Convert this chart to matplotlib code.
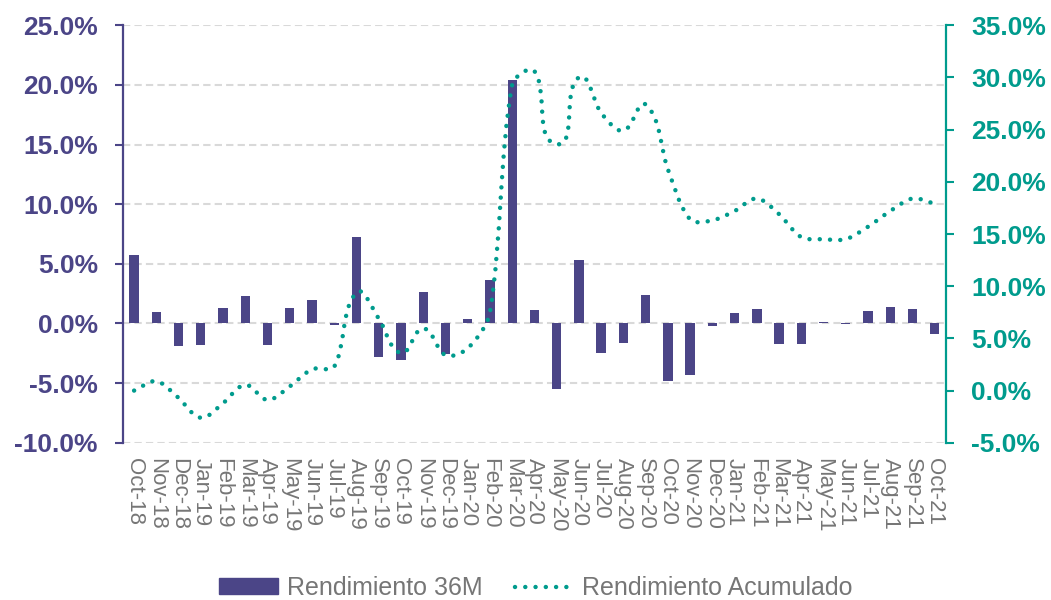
import numpy as np
import matplotlib
matplotlib.use("Agg")
from matplotlib import pyplot as plt
from matplotlib.path import Path
from matplotlib.patches import PathPatch, Patch
from matplotlib.lines import Line2D
from matplotlib.ticker import FuncFormatter

plt.rcParams['font.family'] = ['Liberation Sans', 'DejaVu Sans']

# Data
months = ["Oct-18", "Nov-18", "Dec-18", "Jan-19", "Feb-19", "Mar-19", "Apr-19", "May-19",
          "Jun-19", "Jul-19", "Aug-19", "Sep-19", "Oct-19", "Nov-19", "Dec-19", "Jan-20",
          "Feb-20", "Mar-20", "Apr-20", "May-20", "Jun-20", "Jul-20", "Aug-20", "Sep-20",
          "Oct-20", "Nov-20", "Dec-20", "Jan-21", "Feb-21", "Mar-21", "Apr-21", "May-21",
          "Jun-21", "Jul-21", "Aug-21", "Sep-21", "Oct-21"]
rend_36m = [5.7, 1.0, -1.9, -1.8, 1.3, 2.3, -1.8, 1.3, 2.0, -0.15, 7.25, -2.8, -3.05,
            2.65, -2.55, 0.35, 3.65, 20.4, 1.1, -5.5, 5.35, -2.45, -1.6, 2.4, -4.8, -4.35,
            -0.25, 0.9, 1.2, -1.7, -1.7, 0.1, -0.05, 1.05, 1.35, 1.2, -0.85]
rend_acum = [0.0, 0.9, -0.7, -2.6, -1.2, 0.55, -0.9, 0.4, 2.05, 2.3, 9.4, 6.9, 3.6,
             5.95, 3.4, 4.05, 7.5, 29.3, 30.6, 23.6, 30.0, 26.6, 24.9, 27.4, 21.2, 16.4,
             16.3, 17.2, 18.4, 16.9, 14.7, 14.5, 14.5, 15.7, 17.2, 18.4, 17.9]

purple = '#4B4587'
teal = '#009B8D'
gray = '#767676'


def smooth_path(xs, ys, yscale, t=0.3):
    # smooth curve through the points; tangents scaled by segment length
    # (worked out in a roughly isotropic space so short segments don't overshoot)
    pts = np.column_stack([xs, np.asarray(ys) * yscale]).astype(float)
    n = len(pts)
    tang = []
    for i in range(n):
        d = pts[min(i + 1, n - 1)] - pts[max(i - 1, 0)]
        tang.append(d / np.hypot(*d))
    verts = [pts[0]]
    codes = [Path.MOVETO]
    for i in range(n - 1):
        seg = np.hypot(*(pts[i + 1] - pts[i]))
        verts += [pts[i] + tang[i] * seg * t, pts[i + 1] - tang[i + 1] * seg * t, pts[i + 1]]
        codes += [Path.CURVE4] * 3
    verts = np.array(verts)
    verts[:, 1] /= yscale
    return Path(verts, codes)


fig = plt.figure(figsize=(10.51, 6.0), dpi=100)
ax = fig.add_axes([0.117, 0.262, 0.783, 0.696])
x = np.arange(len(months))

ax.bar(x, rend_36m, width=0.42, color=purple, zorder=2)
ax.set_xlim(-0.5, len(months) - 0.5)
ax.set_ylim(-10, 25)
ax.set_yticks(np.arange(-10, 26, 5))
ax.yaxis.set_major_formatter(FuncFormatter(lambda v, p: f"{v:.1f}%"))
ax.yaxis.grid(True, color='#D9D9D9', linestyle=(0, (3.5, 2)), linewidth=1.5, zorder=0)
ax.set_axisbelow(True)

ax.set_xticks(x)
ax.set_xticklabels(months, rotation=-90, ha='center', va='top', color=gray, fontsize=16)
ax.tick_params(axis='x', length=0, pad=11)
ax.tick_params(axis='y', colors=purple, labelsize=19, length=6, width=1.5, pad=12)
for lab in ax.get_yticklabels():
    lab.set_fontweight('bold')

for s in ['top', 'bottom', 'right']:
    ax.spines[s].set_visible(False)
ax.spines['left'].set_color(purple)
ax.spines['left'].set_linewidth(1.6)

ax2 = ax.twinx()
ax2.set_ylim(-5, 35)
ax2.set_yticks(np.arange(-5, 36, 5))
ax2.yaxis.set_major_formatter(FuncFormatter(lambda v, p: f"{v:.1f}%"))
ax2.tick_params(axis='y', colors=teal, labelsize=19, length=6, width=1.5, pad=12)
for lab in ax2.get_yticklabels():
    lab.set_fontweight('bold')
for s in ['top', 'bottom', 'left']:
    ax2.spines[s].set_visible(False)
ax2.spines['right'].set_color(teal)
ax2.spines['right'].set_linewidth(1.6)

# pixels per % on the right axis over pixels per category
yscale = (0.696 * 600 / 40) / (0.783 * 1051 / len(months))
line = PathPatch(smooth_path(x, rend_acum, yscale), fill=False, edgecolor=teal, linewidth=3.2,
                 linestyle=(0, (0.01, 2.3)), capstyle='round', transform=ax2.transData)
ax2.add_patch(line)

handles = [Patch(color=purple),
           Line2D([], [], color=teal, linewidth=3.2, linestyle=(0, (0.01, 2.3)),
                  dash_capstyle='round')]
fig.legend(handles, ["Rendimiento 36M", "Rendimiento Acumulado"], loc='center',
           bbox_to_anchor=(0.51, 0.02), ncol=2, frameon=False, fontsize=18,
           labelcolor=gray, handlelength=2.35, handleheight=0.62, handletextpad=0.35,
           columnspacing=1.3)

fig.savefig("out.png", dpi=100)
